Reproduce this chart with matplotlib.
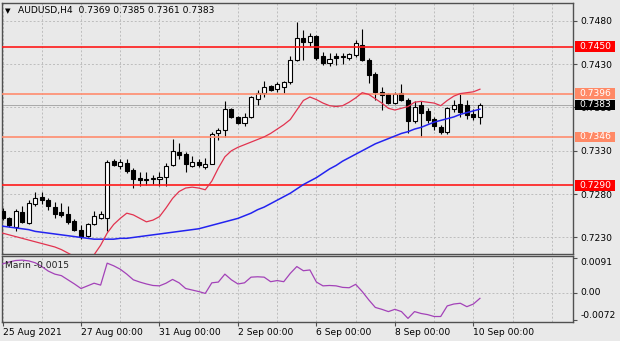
import numpy as np
import matplotlib
matplotlib.use("Agg")
import matplotlib.pyplot as plt
from matplotlib.patches import Rectangle
from matplotlib.transforms import blended_transform_factory

# ---- AUDUSD H4 candles (25 Aug 2021 00:00 .. 10 Sep 2021 04:00) ----
opens = [0.7261, 0.7252, 0.7242, 0.7259, 0.7247, 0.7269, 0.7277, 0.7273, 0.7265, 0.7259,
         0.7257, 0.7249, 0.7239, 0.7232, 0.7246, 0.7253, 0.7253, 0.7318, 0.7312, 0.7316,
         0.7308, 0.7299, 0.7297, 0.7297, 0.7297, 0.7300, 0.7314, 0.7329, 0.7326, 0.7312,
         0.7317, 0.7311, 0.7315, 0.7350, 0.7354, 0.7378, 0.7369, 0.7362, 0.7369, 0.7390,
         0.7397, 0.7405, 0.7401, 0.7404, 0.7409, 0.7435, 0.7460, 0.7456, 0.7462, 0.7439,
         0.7431, 0.7439, 0.7438, 0.7437, 0.7440, 0.7452, 0.7435, 0.7419, 0.7398, 0.7396,
         0.7385, 0.7397, 0.7389, 0.7364, 0.7383, 0.7376, 0.7367, 0.7357, 0.7352, 0.7378,
         0.7384, 0.7383, 0.7372, 0.7369]
highs = [0.7264, 0.7254, 0.7263, 0.7266, 0.7273, 0.7283, 0.7283, 0.7275, 0.7271, 0.7270,
         0.7266, 0.7251, 0.7244, 0.7247, 0.7260, 0.7261, 0.7319, 0.7320, 0.7320, 0.7321,
         0.7310, 0.7305, 0.7306, 0.7302, 0.7305, 0.7316, 0.7344, 0.7339, 0.7328, 0.7324,
         0.7320, 0.7322, 0.7352, 0.7356, 0.7387, 0.7379, 0.7370, 0.7373, 0.7393, 0.7400,
         0.7411, 0.7406, 0.7409, 0.7411, 0.7439, 0.7479, 0.7469, 0.7466, 0.7464, 0.7444,
         0.7443, 0.7443, 0.7443, 0.7443, 0.7458, 0.7470, 0.7437, 0.7421, 0.7404, 0.7397,
         0.7398, 0.7407, 0.7391, 0.7387, 0.7387, 0.7379, 0.7369, 0.7360, 0.7381, 0.7388,
         0.7396, 0.7389, 0.7378, 0.7385]
lows = [0.7250, 0.7242, 0.7238, 0.7247, 0.7246, 0.7266, 0.7269, 0.7262, 0.7252, 0.7254,
        0.7246, 0.7237, 0.7228, 0.7230, 0.7244, 0.7251, 0.7237, 0.7312, 0.7309, 0.7304,
        0.7287, 0.7289, 0.7290, 0.7292, 0.7289, 0.7289, 0.7312, 0.7320, 0.7305, 0.7311,
        0.7311, 0.7309, 0.7315, 0.7342, 0.7346, 0.7368, 0.7361, 0.7358, 0.7368, 0.7383,
        0.7392, 0.7399, 0.7398, 0.7397, 0.7407, 0.7433, 0.7435, 0.7451, 0.7435, 0.7429,
        0.7428, 0.7429, 0.7430, 0.7435, 0.7438, 0.7433, 0.7408, 0.7389, 0.7377, 0.7384,
        0.7384, 0.7387, 0.7351, 0.7362, 0.7346, 0.7362, 0.7354, 0.7349, 0.7349, 0.7375,
        0.7369, 0.7367, 0.7366, 0.7361]
closes = [0.7252, 0.7244, 0.7260, 0.7248, 0.7270, 0.7276, 0.7273, 0.7266, 0.7257, 0.7256,
          0.7248, 0.7239, 0.7231, 0.7246, 0.7255, 0.7257, 0.7317, 0.7313, 0.7317, 0.7307,
          0.7297, 0.7296, 0.7296, 0.7298, 0.7300, 0.7312, 0.7330, 0.7325, 0.7315, 0.7317,
          0.7313, 0.7315, 0.7349, 0.7354, 0.7378, 0.7369, 0.7362, 0.7369, 0.7392, 0.7397,
          0.7403, 0.7400, 0.7407, 0.7409, 0.7435, 0.7460, 0.7455, 0.7462, 0.7437, 0.7431,
          0.7436, 0.7437, 0.7439, 0.7442, 0.7454, 0.7435, 0.7417, 0.7398, 0.7394, 0.7385,
          0.7396, 0.7388, 0.7364, 0.7380, 0.7374, 0.7366, 0.7358, 0.7352, 0.7379, 0.7383,
          0.7375, 0.7371, 0.7369, 0.7383]

# fast moving average (red) and slow moving average (blue)
ma_fast = [0.7235, 0.7233, 0.7231, 0.7229, 0.7227, 0.7225, 0.7223, 0.7221, 0.7219, 0.7216,
           0.7212, 0.7208, 0.7205, 0.7205, 0.7210, 0.7221, 0.7235, 0.7245, 0.7252, 0.7258,
           0.7256, 0.7252, 0.7248, 0.7250, 0.7254, 0.7264, 0.7275, 0.7283, 0.7287, 0.7288,
           0.7287, 0.7285, 0.7295, 0.7310, 0.7323, 0.7330, 0.7334, 0.7337, 0.7340, 0.7343,
           0.7346, 0.7350, 0.7355, 0.7360, 0.7366, 0.7377, 0.7388, 0.7392, 0.7389, 0.7385,
           0.7382, 0.7381, 0.7382, 0.7386, 0.7391, 0.7397, 0.7395, 0.7390, 0.7385, 0.7379,
           0.7377, 0.7379, 0.7381, 0.7386, 0.7387, 0.7386, 0.7385, 0.7382, 0.7388, 0.7393,
           0.7396, 0.7397, 0.7398, 0.7401]
ma_slow = [0.7243, 0.7242, 0.7241, 0.7240, 0.7239, 0.7237, 0.7236, 0.7235, 0.7234, 0.7233,
           0.7232, 0.7231, 0.7230, 0.7229, 0.7228, 0.7228, 0.7228, 0.7228, 0.7229, 0.7229,
           0.7230, 0.7231, 0.7232, 0.7233, 0.7234, 0.7235, 0.7236, 0.7237, 0.7238, 0.7239,
           0.7240, 0.7242, 0.7244, 0.7246, 0.7248, 0.7250, 0.7252, 0.7255, 0.7258, 0.7262,
           0.7265, 0.7269, 0.7273, 0.7277, 0.7281, 0.7286, 0.7291, 0.7295, 0.7299, 0.7304,
           0.7309, 0.7313, 0.7318, 0.7322, 0.7326, 0.7330, 0.7334, 0.7338, 0.7341, 0.7344,
           0.7347, 0.7350, 0.7352, 0.7355, 0.7357, 0.7360, 0.7363, 0.7365, 0.7367, 0.7369,
           0.7372, 0.7374, 0.7376, 0.7378]

# oscillator in the lower window
marin = [0.0076, 0.0081, 0.0085, 0.0086, 0.0084, 0.0079, 0.0069, 0.0057, 0.0049, 0.0045,
         0.0034, 0.0023, 0.0011, 0.0018, 0.0025, 0.0020, 0.0078, 0.0071, 0.0062, 0.0049,
         0.0034, 0.0028, 0.0023, 0.0019, 0.0018, 0.0025, 0.0035, 0.0026, 0.0011, 0.0007,
         0.0003, -0.0002, 0.0026, 0.0028, 0.0049, 0.0034, 0.0023, 0.0026, 0.0041, 0.0042,
         0.0041, 0.0029, 0.0032, 0.0029, 0.0051, 0.0069, 0.0058, 0.0060, 0.0028, 0.0018,
         0.0019, 0.0018, 0.0014, 0.0013, 0.0022, 0.0003, -0.0019, -0.0039, -0.0044, -0.0050,
         -0.0044, -0.0050, -0.0068, -0.0050, -0.0055, -0.0058, -0.0063, -0.0063, -0.0035, -0.0030,
         -0.0028, -0.0037, -0.0030, -0.0015]

# horizontal levels: (price, line colour, label colour)
levels = [0.7450, 0.7396, 0.7346, 0.7290]
level_colors = ["#ff1a1a", "#ff8c6e", "#ff8c6e", "#ff1a1a"]
bid_price = closes[-1]

price_ticks = [0.7230, 0.7280, 0.7330, 0.7380, 0.7430, 0.7480]
osc_ticks = [-0.0072, 0.0, 0.0091]
osc_tick_labels = ["-0.0072", "0.00", "0.0091"]
date_bars = [0, 12, 24, 36, 48, 60, 72]
date_labels = ["25 Aug 2021", "27 Aug 00:00", "31 Aug 00:00", "2 Sep 00:00",
               "6 Sep 00:00", "8 Sep 00:00", "10 Sep 00:00"]
symbol = "AUDUSD,H4"

# ---------------------------------------------------------------------------
BG = "#e9e9e9"
GRID = "#bdbdbd"
FRAME = "#505050"
FS = 6.6
plt.rcParams["font.family"] = ["DejaVu Sans"]

W, H = 620, 341
fig = plt.figure(figsize=(W / 100, H / 100), dpi=100, facecolor=BG)


def px_rect(left, top, right, bottom):
    return [left / W, 1 - bottom / H, (right - left) / W, (bottom - top) / H]


ax = fig.add_axes(px_rect(2, 2.7, 573, 254), facecolor=BG)
ax2 = fig.add_axes(px_rect(2, 256, 573, 322), facecolor=BG)

o = np.array(opens); h = np.array(highs); l = np.array(lows); c = np.array(closes)
x = np.arange(len(o))
xlim = (-0.08, 87.23)
for a in (ax, ax2):
    a.set_xlim(*xlim)
    for s in a.spines.values():
        s.set_color(FRAME)
        s.set_linewidth(1.0)
    # day separators
    for b in range(0, 90, 6):
        a.axvline(b, color=GRID, lw=0.7, ls=(0, (2, 2)), zorder=0.5)

ax.set_ylim(0.72109, 0.75008)
ax2.set_ylim(-0.00775, 0.00969)

# price grid
for p in price_ticks:
    ax.axhline(p, color=GRID, lw=0.7, ls=(0, (2, 2)), zorder=0.5)
ax2.axhline(0.0, color=GRID, lw=0.7, ls=(0, (2, 2)), zorder=0.5)

# bid line
ax.axhline(bid_price, color="#a8a8a8", lw=0.7, zorder=1)

# candles
up = c >= o
ax.vlines(x, l, h, color="black", lw=0.8, zorder=3)
ax.bar(x, np.abs(c - o), bottom=np.minimum(o, c), width=0.62,
       color=np.where(up, "white", "black"), edgecolor="black",
       linewidth=0.8, zorder=4)

# moving averages
ax.plot(x, ma_slow, color="#2323f0", lw=1.1, zorder=5)
ax.plot(x, ma_fast, color="#e2334f", lw=0.9, zorder=5)

# horizontal levels
for p, col in zip(levels, level_colors):
    ax.axhline(p, color=col, lw=1.2, zorder=4.5)

# right price scale
ax.yaxis.tick_right()
ax.set_yticks(price_ticks)
ax.set_yticklabels([f"{p:.4f}" for p in price_ticks])
ax.tick_params(axis="y", direction="out", length=3, width=0.8, color=FRAME,
               labelsize=FS, pad=2.5)
ax.set_xticks([])

# coloured value boxes on the price scale
ax_h_px = 254 - 2.7
ylo, yhi = ax.get_ylim()
box_h = 10.5 * (yhi - ylo) / ax_h_px
trans = blended_transform_factory(ax.transAxes, ax.transData)
box_x0 = 1 + 2.0 / 571
box_w = 40.0 / 571
text_x = 1 + 6.5 / 571
for p, col, fg in list(zip(levels, ["#ff0000", "#ff8966", "#ff8966", "#ff0000"],
                           ["white"] * 4)) + [(bid_price, "black", "white")]:
    ax.add_patch(Rectangle((box_x0, p - box_h / 2), box_w, box_h, transform=trans,
                           facecolor=col, edgecolor="none", clip_on=False, zorder=8))
    ax.text(text_x, p, f"{p:.4f}", transform=trans, color=fg, fontsize=FS,
            va="center", ha="left", zorder=9, clip_on=False)

# header
o_, h_, l_, c_ = opens[-1], highs[-1], lows[-1], closes[-1]
fig.text(5 / W, 1 - 10.8 / H, "\u25bc", fontsize=5.2, va="center", ha="left")
fig.text(17.5 / W, 1 - 10.8 / H,
         f"{symbol}  {o_:.4f} {h_:.4f} {l_:.4f} {c_:.4f}",
         fontsize=FS, va="center", ha="left")

# lower window
ax2.plot(x, marin, color="#a342b8", lw=0.9, zorder=3)
ax2.yaxis.tick_right()
ax2.set_yticks(osc_ticks)
ax2.set_yticklabels(osc_tick_labels)
ax2.tick_params(axis="y", direction="out", length=3, width=0.8, color=FRAME,
                labelsize=FS, pad=2.5)
for t, va in zip(ax2.get_yticklabels(), ["bottom", "center", "top"]):
    t.set_va(va)
ax2.text(2.7 / 571, 1 - 9.7 / 66, f"Marin {marin[-1]:.4f}", transform=ax2.transAxes,
         fontsize=FS, va="center", ha="left", color="#202020", zorder=6)

ax2.set_xticks(date_bars)
ax2.set_xticklabels(date_labels, ha="left")
ax2.tick_params(axis="x", direction="out", length=3, width=0.8, color=FRAME,
                labelsize=FS, pad=1.2)

fig.savefig("out.png", dpi=100, facecolor=BG)
